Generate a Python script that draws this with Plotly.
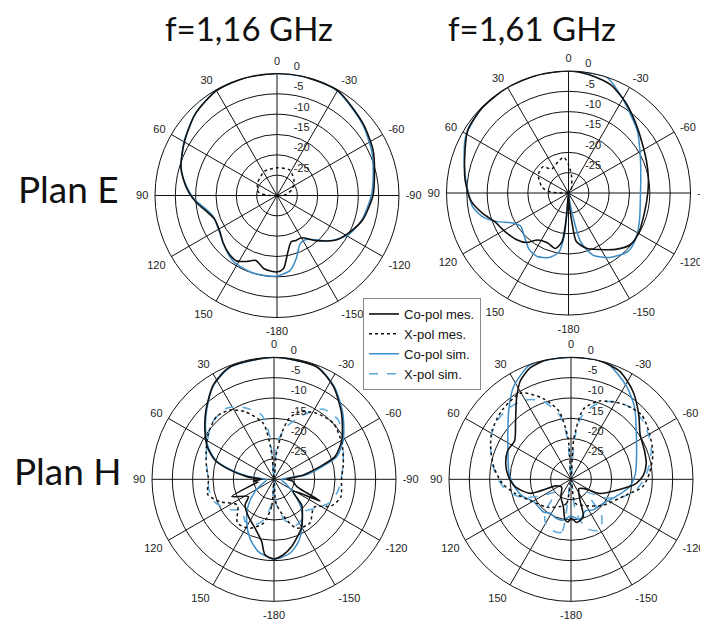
import plotly.graph_objs as go

# angles in degrees, positive counter-clockwise from broadside (0 at top)
# levels in dB, normalised to 0

# Plan E, f=1,16 GHz
th_e116_co_mes = [180, 170, 162, 155, 148, 141, 131, 122, 111, 103, 95, 88, 80, 73, 60, 45, 30, 15, 0,
                  -12, -30, -50, -65, -77, -90, -106, -117, -127, -139, -150, -157, -163, -169, -175, -180]
r_e116_co_mes = [-11.2, -11.7, -13.2, -12.1, -11.1, -11.4, -12.4, -13.4, -13.6, -12.3, -10.1, -8.3, -6.6, -5.3,
                 -3.7, -1.6, -0.2, 0, 0, 0, -0.2, -2.4, -3.9, -5.4, -6.4, -8.1, -10, -11.8, -15.3, -18, -18,
                 -18.1, -15.9, -11.9, -11.2]
th_e116_co_sim = [180, 170, 161, 147, 136, 123, 108, 100, 92, 85, 75, 60, 45, 30, 15, 0, -15, -30, -50, -65,
                  -78, -90, -106, -119, -131, -146, -154, -163, -170, -180]
r_e116_co_sim = [-10.2, -10.1, -10.1, -10.5, -11.8, -13.2, -13.5, -12, -9.5, -7.8, -5.6, -3.6, -1.6, -0.2, 0, 0,
                 0, -0.3, -2.6, -4.3, -5.8, -6.8, -8.3, -10, -13, -17, -16.9, -13.8, -11.3, -10.2]
th_e116_x_mes = [180, 120, 95, 87, 79, 56, 27, 0, -26, -47, -67, -83, -95, -120, -180]
r_e116_x_mes = [-30, -30, -29.5, -27.2, -25.3, -24.3, -23.3, -23.2, -23, -24.3, -25.9, -27.7, -29.5, -30, -30]

# Plan E, f=1,61 GHz
th_e161_co_mes = [180, 175, 172.5, 166.8, 157, 146.8, 139.5, 131.6, 121, 111, 103.4, 94.3, 83, 71, 58, 45, 30,
                  15, 0, -10, -21, -32, -43, -55, -68, -79, -90, -105, -119, -130, -140, -151, -162, -171,
                  -173, -176, -180]
r_e161_co_mes = [-30, -23.8, -18, -16, -16.7, -16.2, -14, -12.8, -11.7, -10.5, -8.3, -5.9, -4.4, -3, -0.8,
                 -0.2, 0, 0, 0, -0.5, -1.4, -3.6, -6, -8, -9.3, -10, -10.5, -10.7, -10.2, -10.2, -11.9, -14.1,
                 -15.7, -18, -22, -27, -30]
th_e161_co_sim = [180, 175.4, 174.4, 170.6, 163, 153.9, 145, 134.4, 124.8, 118.4, 112, 105.5, 98.2, 88.5, 75,
                  61.5, 45, 30, 15, 0, -18, -27.5, -37, -48, -59.5, -75, -90, -111, -124, -134.5, -147.6,
                  -158.5, -166, -169, -174, -180]
r_e161_co_sim = [-30, -25.4, -19.5, -15.2, -13.4, -12.6, -13.1, -14.8, -15.7, -14.5, -11.2, -8.1, -6.2, -5.2,
                 -3.5, -1.2, 0, 0, 0, 0, 0, -2.6, -5.1, -7.2, -9.6, -11.6, -12.3, -11.3, -10, -9.5, -11.2,
                 -13.6, -17.6, -23.6, -28.8, -30]
th_e161_x_mes = [180, 100, 90, 87, 78, 58.6, 44, 35.2, 19.7, 7.6, 0, -9.8, -36, -60, -180]
r_e161_x_mes = [-30, -30, -28.5, -25.6, -23.4, -21.3, -21, -22.8, -22, -21.1, -23, -25.7, -28.8, -30, -30]

# Plan H, f=1,16 GHz
th_h116_co_mes = [180, 173.2, 168.8, 158.8, 143.6, 131.5, 124, 112.3, 105, 100, 94.6, 90, 84.4, 78, 71.9, 63.9,
                  54.4, 44.4, 32.7, 21.3, 0, -20.7, -32.6, -45.7, -59.8, -69.6, -74.6, -81.6, -90, -95, -108,
                  -115.2, -122, -132.9, -138.8, -151, -159, -165.3, -173, -180]
r_h116_co_mes = [-10.4, -11.3, -14.4, -17.1, -19.1, -20.5, -22.4, -18.8, -24.2, -26, -24.9, -27, -23.3, -18.9,
                 -14.7, -11.7, -9.1, -6.1, -2.4, -0.3, 0, -0.4, -2.9, -6.8, -10.7, -14, -18.3, -22.7, -26.9,
                 -25.5, -24, -17.5, -24.5, -20.7, -19.4, -16.2, -14.5, -12.9, -11.3, -10.4]
th_h116_co_sim = [180, 167.8, 157.9, 147.1, 135, 123, 110, 100, 90, 84, 78, 72, 64, 54, 44, 33, 21, 0, -21,
                  -33, -46, -60, -70, -75, -82, -90, -100, -110, -126.7, -138, -150.5, -158.7, -167.8, -180]
r_h116_co_sim = [-10.4, -11.8, -14.3, -17.6, -21.1, -24.4, -27, -28, -28, -24, -19.5, -15, -12, -9.2, -6.2,
                 -2.6, -0.4, 0, -0.4, -2.8, -6.5, -10.3, -13.5, -17.5, -22, -28, -28, -27, -23.6, -19.8,
                 -16.1, -13.5, -11.4, -10.4]
th_h116_x_mes = [180, 175, 166.4, 153.9, 140, 125, 112.5, 103, 90, 82, 69, 55, 42.5, 32.4, 23.2, 10.8, 5, 0,
                 -5, -10, -14, -21, -32.9, -46.7, -62, -77, -90, -105, -115, -125, -140.5, -155, -162.7,
                 -175, -180]
r_h116_x_mes = [-30, -23.3, -18.9, -16.6, -16, -19, -15.6, -13.3, -13.9, -13.3, -12.1, -10.3, -9.1, -9.8,
                -11.9, -16, -23.6, -30, -24, -18, -14.5, -12.2, -10.7, -9.9, -11.1, -12.5, -13.4, -13,
                -14.5, -18, -16.1, -16.7, -19.5, -24, -30]
th_h116_x_sim = [180, 175, 165, 155, 145, 135, 125, 112, 100, 89, 75, 64, 48, 33.7, 23, 10.9, 5.4, 0, -5,
                 -13.5, -24.5, -35.2, -47.3, -62.6, -79.5, -90, -100, -112, -125, -135, -145, -155, -165,
                 -175, -180]
r_h116_x_sim = [-30, -24, -19.5, -17.5, -17.5, -19, -17, -14.5, -13.8, -13.8, -12.8, -11.6, -9.4, -9, -10.8,
                -13.9, -19.5, -30, -21, -16.7, -12.6, -8.9, -8.5, -10.8, -12.8, -13.5, -14, -15, -17.5,
                -19, -18, -17.5, -19.5, -24, -30]

# Plan H, f=1,61 GHz
th_h161_co_mes = [180, 176, 171.7, 164.5, 150, 130, 114, 109, 97.8, 86.4, 76.6, 65.5, 55.6, 43.5, 33.7, 27.3,
                  20, 11.3, 0, -13.5, -24.2, -35, -46.1, -56.8, -68.6, -78.3, -86.9, -93.8, -101.9, -116.3,
                  -125, -140, -156.8, -161.9, -172.6, -180]
r_h161_co_mes = [-20.5, -19.5, -19.9, -23, -25, -27, -26, -19.4, -16.2, -14.5, -13.5, -12.9, -13.2, -10.2, -5.9,
                 -2.8, -0.8, 0, 0, 0, -0.85, -3.5, -6.9, -9.7, -10.6, -11.1, -12.2, -14, -17.8, -22.1, -26,
                 -27, -24.4, -20.3, -19.3, -20.5]
th_h161_co_sim = [180, 169.4, 160, 148.5, 140, 121, 110, 99.5, 84.8, 68, 52.4, 40.9, 31.5, 19.5, 0, -16.6,
                  -30.6, -41.5, -53.3, -68.8, -85, -97.4, -114.5, -125, -144, -155, -167.6, -180]
r_h161_co_sim = [-21, -19.8, -19.7, -20.2, -19.5, -19.3, -17.5, -16.2, -14.7, -13.3, -10.4, -6.7, -3.1, -0.1,
                 0, 0, -3.3, -6.4, -10, -12.7, -14.1, -15.5, -18.7, -20, -20.7, -21.5, -19.8, -21]
th_h161_x_mes = [180, 170, 158, 140, 125, 104.4, 93.6, 81, 68.2, 58.3, 45, 30, 19, 10, 4, 0, -4, -10, -20,
                 -35, -47.8, -60, -72.7, -85.9, -96, -106, -130, -150, -170, -180]
r_h161_x_mes = [-30, -24, -22.8, -21, -19.7, -15.9, -13.1, -10.8, -8.7, -7.2, -6, -5.5, -9, -13, -20, -30, -20,
                -12.5, -9.5, -7.5, -6.5, -7.7, -8.9, -10.7, -12.3, -15.9, -20, -22.5, -24, -30]
th_h161_x_sim = [180, 170, 160, 150, 141.5, 130, 120, 110, 100, 90, 80, 70, 60, 50, 40, 30, 20, 10, 5, 0, -5,
                 -10, -20, -30, -40, -50, -60, -70, -80, -90, -100, -110, -120, -130, -139.6, -150.4,
                 -162.4, -172, -180]
r_h161_x_sim = [-30, -16.8, -16.6, -17.5, -19.7, -25, -22, -17, -14, -12, -10.5, -9, -7.5, -6.8, -6.8, -7.5,
                -9.5, -14, -20, -30, -20, -14, -10, -8, -7, -7.2, -8, -9, -10.5, -12, -14, -17, -21, -25,
                -18.4, -15.6, -17.3, -22, -30]

angle_ticks = [0, 30, 60, 90, 120, 150, 180, 210, 240, 270, 300, 330]
angle_labels = ['0', '30', '60', '90', '120', '150', '-180', '-150', '-120', '-90', '-60', '-30']
db_ticks = [-25, -20, -15, -10, -5, 0]
db_labels = ['-25', '-20', '-15', '-10', '-5', '0']

titles = ['f=1,16 GHz', 'f=1,61 GHz']
planes = ['Plan E', 'Plan H']
legend_names = ['Co-pol mes.', 'X-pol mes.', 'Co-pol sim.', 'X-pol sim.']

# the page body adds an 8px margin, so the figure is drawn 8px smaller
W, H, OFF = 700, 613, 8
BLACK = '#111111'
BLUE = '#3a8cc6'
LIGHTBLUE = '#5aa8dc'
TICKFONT = dict(family='Liberation Sans, Arial', size=11, color='#222222')


def px(x, y):
    # screen pixel -> paper coordinates
    return (x - OFF) / W, 1 - (y - OFF) / H


def dom(cx, cy, rad):
    x0, y1 = px(cx - rad, cy - rad)
    x1, y0 = px(cx + rad, cy + rad)
    return [x0, x1], [y0, y1]


def styles():
    return [dict(color=BLACK, width=1.6, dash='solid'),
            dict(color=BLACK, width=1.5, dash='dot'),
            dict(color=BLUE, width=1.5, dash='solid'),
            dict(color=LIGHTBLUE, width=1.5, dash='dash')]


def polar_layout(cx, cy):
    x, y = dom(cx, cy, 122)
    # the blank second line lifts each dB label just above its ring
    lifted = [t + '<br> ' for t in db_labels]
    return dict(
        domain=dict(x=x, y=y),
        bgcolor='white',
        angularaxis=dict(rotation=90, direction='counterclockwise',
                         tickmode='array', tickvals=angle_ticks, ticktext=angle_labels,
                         showline=True, linecolor=BLACK, linewidth=1,
                         showgrid=True, gridcolor=BLACK, gridwidth=1,
                         ticks='outside', ticklen=4, tickcolor='rgba(0,0,0,0)',
                         tickfont=TICKFONT),
        radialaxis=dict(range=[-30, 0], tickmode='array', tickvals=db_ticks, ticktext=lifted,
                        angle=90, tickangle=90, side='clockwise', showline=False,
                        ticks='outside', ticklen=14, tickcolor='rgba(0,0,0,0)',
                        showgrid=True, gridcolor=BLACK, gridwidth=1,
                        tickfont=TICKFONT),
    )


def main():
    panels = [
        ('polar', [(th_e116_co_mes, r_e116_co_mes), (th_e116_x_mes, r_e116_x_mes),
                   (th_e116_co_sim, r_e116_co_sim), None]),
        ('polar2', [(th_e161_co_mes, r_e161_co_mes), (th_e161_x_mes, r_e161_x_mes),
                    (th_e161_co_sim, r_e161_co_sim), None]),
        ('polar3', [(th_h116_co_mes, r_h116_co_mes), (th_h116_x_mes, r_h116_x_mes),
                    (th_h116_co_sim, r_h116_co_sim), (th_h116_x_sim, r_h116_x_sim)]),
        ('polar4', [(th_h161_co_mes, r_h161_co_mes), (th_h161_x_mes, r_h161_x_mes),
                    (th_h161_co_sim, r_h161_co_sim), (th_h161_x_sim, r_h161_x_sim)]),
    ]
    fig = go.Figure()
    # sim curves first so the measured ones sit on top
    for name, curves in panels:
        for k in [3, 2, 1, 0]:
            if curves[k] is None:
                continue
            th, r = curves[k]
            fig.add_trace(go.Scatterpolar(
                theta=th, r=r, mode='lines', subplot=name,
                line=dict(shape='spline', smoothing=0.7, **styles()[k]),
                name=legend_names[k], legendrank=k + 1,
                showlegend=(name == 'polar3'), hoverinfo='skip'))

    lx, ly = px(363, 298)
    fig.update_layout(
        width=W, height=H,
        margin=dict(l=0, r=0, t=0, b=0),
        paper_bgcolor='white',
        polar=polar_layout(277, 195.5),
        polar2=polar_layout(568.5, 193),
        polar3=polar_layout(274, 479.3),
        polar4=polar_layout(571, 479.3),
        legend=dict(x=lx, y=ly, xanchor='left', yanchor='top',
                    bgcolor='white', bordercolor='#888888', borderwidth=1,
                    font=dict(family='Liberation Sans, Arial', size=13, color='#111111'),
                    tracegroupgap=0, itemwidth=30, traceorder='normal'),
    )

    for txt, xc in zip(titles, [249, 532]):
        x, y = px(xc, 28)
        fig.add_annotation(text=txt, x=x, y=y, xref='paper', yref='paper', xanchor='center',
                           yanchor='middle', showarrow=False,
                           font=dict(family='Lato, Noto Sans', size=33, color='#111111'))
    for txt, yc in zip(planes, [188, 470]):
        x, y = px(68, yc)
        fig.add_annotation(text=txt, x=x, y=y, xref='paper', yref='paper', xanchor='center',
                           yanchor='middle', showarrow=False,
                           font=dict(family='Lato, Noto Sans', size=37, color='#111111'))

    fig.write_html("out.html")


if __name__ == '__main__':
    main()
